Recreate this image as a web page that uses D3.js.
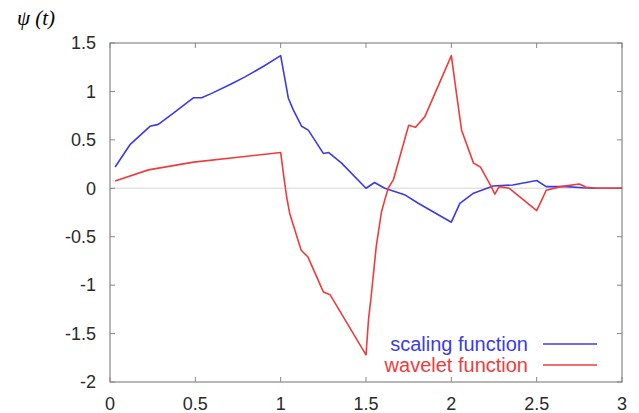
<!DOCTYPE html>
<html>
<head>
<meta charset="utf-8">
<script src="https://cdn.jsdelivr.net/npm/d3@7"></script>
<style>
  body { margin: 0; background: #fff; }
  svg { display: block; }
  .tick-label { font-family: "Liberation Sans", Arial, sans-serif; font-size: 18px; fill: #2a2a2a; }
  .legend { font-family: "Liberation Sans", Arial, sans-serif; font-size: 20px; }
  .title { font-family: "Liberation Serif", "DejaVu Serif", serif; font-style: italic; font-size: 21px; fill: #000; }
</style>
</head>
<body>
<div id="chart"></div>
<script>
// scaling function (blue)
var tScaling = [0.03, 0.117, 0.234, 0.283, 0.36, 0.49, 0.537, 0.596, 0.713, 0.791, 0.9, 1.0,
  1.045, 1.074, 1.123, 1.162, 1.25, 1.28, 1.357, 1.5, 1.55, 1.61, 1.73, 1.806, 2.0,
  2.05, 2.13, 2.245, 2.36, 2.5, 2.556, 2.675, 2.77, 2.85, 3.0];
var vScaling = [0.22, 0.45, 0.64, 0.66, 0.76, 0.935, 0.935, 0.98, 1.08, 1.15, 1.26, 1.37,
  0.93, 0.81, 0.64, 0.60, 0.36, 0.37, 0.26, 0.0, 0.06, 0.0, -0.07, -0.155, -0.35,
  -0.155, -0.05, 0.024, 0.034, 0.08, 0.017, 0.017, 0.005, 0, 0];

// wavelet function (red)
var tWavelet = [0.03, 0.225, 0.49, 0.75, 1.0, 1.02, 1.035, 1.053, 1.12, 1.16, 1.25, 1.29,
  1.5, 1.515, 1.53, 1.56, 1.59, 1.61, 1.63, 1.66, 1.75, 1.79, 1.845, 2.0, 2.03, 2.06, 2.13,
  2.17, 2.23, 2.255, 2.28, 2.34, 2.5, 2.53, 2.556, 2.64, 2.75, 2.79, 2.85, 3.0];
var vWavelet = [0.075, 0.19, 0.27, 0.32, 0.37, 0.1, -0.09, -0.26, -0.64, -0.71, -1.07, -1.10,
  -1.72, -1.35, -1.12, -0.6, -0.25, -0.12, 0.0, 0.086, 0.65, 0.63, 0.74, 1.37, 0.98, 0.6, 0.26,
  0.22, 0.03, -0.06, 0.017, 0, -0.23, -0.12, -0.02, 0.017, 0.045, 0.01, 0, 0];

var xTicks = [0, 0.5, 1, 1.5, 2, 2.5, 3];
var yTicks = [1.5, 1, 0.5, 0, -0.5, -1, -1.5, -2];
var legendLabels = ["scaling function", "wavelet function"];
var colors = ["#3b3be6", "#ee3c3c"];

var width = 639, height = 413;
var plotL = 110, plotR = 622, plotT = 43, plotB = 382;

var svg = d3.select("#chart").append("svg")
  .attr("width", width)
  .attr("height", height);

var x = d3.scaleLinear().domain([0, 3]).range([plotL, plotR]);
var y = d3.scaleLinear().domain([-2, 1.5]).range([plotB, plotT]);

// zero line
svg.append("line")
  .attr("x1", plotL).attr("x2", plotR)
  .attr("y1", y(0)).attr("y2", y(0))
  .attr("stroke", "#e2e2e2").attr("stroke-width", 1.5);

// frame
svg.append("rect")
  .attr("x", plotL).attr("y", plotT)
  .attr("width", plotR - plotL).attr("height", plotB - plotT)
  .attr("fill", "none").attr("stroke", "#888").attr("stroke-width", 1.2);

// ticks, inward on all sides
var tl = 5;
xTicks.forEach(function(t) {
  svg.append("line").attr("x1", x(t)).attr("x2", x(t)).attr("y1", plotB).attr("y2", plotB - tl)
    .attr("stroke", "#888");
  svg.append("line").attr("x1", x(t)).attr("x2", x(t)).attr("y1", plotT).attr("y2", plotT + tl)
    .attr("stroke", "#888");
  svg.append("text").attr("class", "tick-label")
    .attr("x", x(t)).attr("y", 410)
    .attr("text-anchor", "middle")
    .text(t);
});
yTicks.forEach(function(v) {
  svg.append("line").attr("x1", plotL).attr("x2", plotL + tl).attr("y1", y(v)).attr("y2", y(v))
    .attr("stroke", "#888");
  svg.append("line").attr("x1", plotR).attr("x2", plotR - tl).attr("y1", y(v)).attr("y2", y(v))
    .attr("stroke", "#888");
  svg.append("text").attr("class", "tick-label")
    .attr("x", 96).attr("y", y(v)).attr("dy", "0.35em")
    .attr("text-anchor", "end")
    .text(v);
});

// curves
var line = d3.line()
  .x(function(d) { return x(d[0]); })
  .y(function(d) { return y(d[1]); });

var series = [
  d3.zip(tScaling, vScaling),
  d3.zip(tWavelet, vWavelet)
];

series.forEach(function(s, i) {
  svg.append("path")
    .datum(s)
    .attr("d", line)
    .attr("fill", "none")
    .attr("stroke", colors[i])
    .attr("stroke-width", 1.6)
    .attr("stroke-linejoin", "round");
});

// legend
legendLabels.forEach(function(lbl, i) {
  var ly = 344 + i * 21;
  svg.append("text").attr("class", "legend")
    .attr("x", 528).attr("y", ly).attr("dy", "0.35em")
    .attr("text-anchor", "end")
    .attr("fill", colors[i])
    .text(lbl);
  svg.append("line")
    .attr("x1", 543).attr("x2", 597)
    .attr("y1", ly).attr("y2", ly)
    .attr("stroke", colors[i]).attr("stroke-width", 1.6);
});

// title
svg.append("text")
  .attr("class", "title")
  .attr("x", 17).attr("y", 25)
  .text("\u03C8 (t)");
</script>
</body>
</html>
